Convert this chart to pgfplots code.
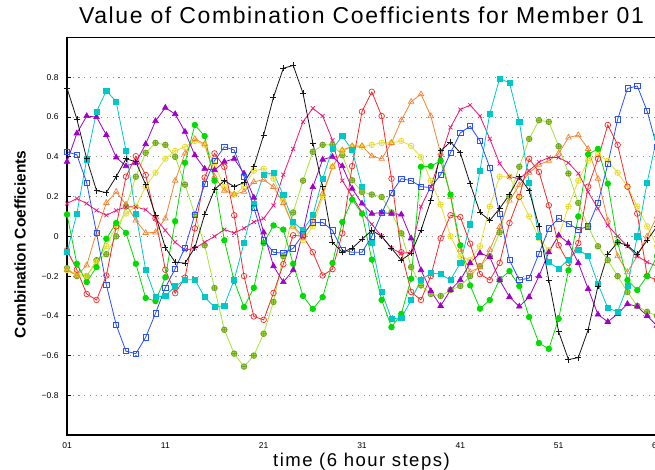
\documentclass[border=0pt]{standalone}
\usepackage{pgfplots}
\pgfplotsset{compat=1.18}
\usepackage{pgfplotstable}
\usepackage{fontspec}
\setmainfont{Liberation Sans}
\definecolor{cBk}{RGB}{20,20,20}
\definecolor{cBl}{RGB}{40,80,255}
\definecolor{cCy}{RGB}{0,200,200}
\definecolor{cPu}{RGB}{160,0,200}
\definecolor{cGr}{RGB}{0,220,0}
\definecolor{cRd}{RGB}{250,40,40}
\definecolor{cOr}{RGB}{245,130,50}
\definecolor{cYe}{RGB}{230,220,50}
\definecolor{cLi}{RGB}{160,230,50}
\definecolor{cPk}{RGB}{240,20,120}
\pgfplotstableread{
t bk bl cy pu gr rd or ye li pk
1 0.745 0.425 -0.08 0.375 0.11 -0.07 -0.17 -0.17 -0.16 0.165
2 0.59 0.41 0.114 0.518 -0.138 -0.168 -0.197 -0.19 -0.2 0.19
3 0.39 0.27 0.387 0.605 -0.23 -0.29 -0.146 -0.2 -0.2 0.165
4 0.23 0.017 0.627 0.60 -0.155 -0.32 0.02 -0.13 -0.12 0.13
5 0.22 -0.244 0.733 0.51 -0.012 -0.197 0.168 -0.05 -0.09 0.106
6 0.30 -0.445 0.677 0.397 0.067 0.05 0.224 0.05 0.0 0.13
7 0.39 -0.578 0.43 0.353 0.017 0.30 0.16 0.115 0.15 0.148
8 0.375 -0.59 0.114 0.37 -0.138 0.403 0.08 0.15 0.3 0.148
9 0.26 -0.508 -0.168 0.464 -0.31 0.308 0.017 0.25 0.42 0.134
10 0.105 -0.387 -0.306 0.58 -0.326 0.09 0.02 0.32 0.47 0.09
11 -0.057 -0.258 -0.30 0.647 -0.206 -0.168 0.09 0.39 0.46 0.03
12 -0.13 -0.163 -0.252 0.615 0.076 -0.286 0.28 0.43 0.40 -0.03
13 -0.135 -0.057 -0.218 0.526 0.37 -0.208 0.417 0.45 0.26 -0.07
14 -0.057 0.11 -0.218 0.408 0.56 0.04 0.49 0.48 0.11 -0.06
15 0.11 0.262 -0.306 0.34 0.504 0.296 0.464 0.46 -0.045 -0.03
16 0.235 0.38 -0.356 0.333 0.28 0.417 0.3 0.36 -0.26 0.0
17 0.28 0.45 -0.348 0.375 -0.02 0.35 0.23 0.25 -0.47 0.034
18 0.25 0.434 -0.218 0.39 -0.225 0.106 0.212 0.21 -0.59 0.017
19 0.27 0.30 -0.034 0.316 -0.356 -0.20 0.224 0.25 -0.655 0.04
20 0.35 0.145 0.165 0.195 -0.259 -0.403 0.274 0.33 -0.6 0.072
21 0.51 -0.02 0.31 0.02 -0.034 -0.42 0.285 0.34 -0.49 0.09
22 0.70 -0.08 0.32 -0.15 0.055 -0.285 0.249 0.29 -0.33 0.156
23 0.845 -0.085 0.207 -0.23 0.034 -0.14 0.168 0.18 -0.1 0.31
24 0.86 -0.06 0.072 -0.17 -0.138 0.005 0.05 0.05 0.12 0.44
25 0.72 0.01 0.03 0.022 -0.3 0.0 0.0 -0.02 0.28 0.576
26 0.47 0.07 0.106 0.248 -0.365 -0.08 0.08 0.05 0.425 0.644
27 0.25 0.07 0.29 0.386 -0.306 -0.197 0.215 0.2 0.46 0.605
28 -0.03 0.03 0.44 0.40 -0.134 -0.165 0.35 0.35 0.46 0.484
29 -0.08 -0.07 0.504 0.353 0.072 0.015 0.433 0.43 0.408 0.28
30 -0.06 -0.08 0.434 0.24 0.185 0.353 0.454 0.45 0.282 0.2
31 -0.015 -0.08 0.25 0.165 0.114 0.627 0.455 0.45 0.223 0.12
32 0.03 0.0 -0.034 0.114 -0.117 0.727 0.403 0.46 0.21 0.06
33 0.0 0.117 -0.28 0.12 -0.32 0.605 0.39 0.47 0.198 0.0
34 -0.06 0.22 -0.415 0.114 -0.457 0.29 0.47 0.47 0.12 -0.06
35 -0.12 0.29 -0.41 0.11 -0.39 -0.08 0.584 0.48 0.015 -0.086
36 -0.085 0.28 -0.32 -0.01 -0.213 -0.28 0.677 0.455 -0.155 -0.08
37 0.03 0.25 -0.22 -0.17 0.35 -0.32 0.715 0.398 -0.247 0.15
38 0.18 0.245 -0.185 -0.275 0.353 -0.2 0.605 0.28 -0.29 0.25
39 0.43 0.31 -0.19 -0.35 0.38 -0.01 0.417 0.16 -0.3 0.4
40 0.475 0.42 -0.22 -0.27 0.21 0.106 0.2 0.0 -0.27 0.548
41 0.42 0.52 -0.134 -0.22 -0.045 0.097 -0.067 -0.1 -0.25 0.638
42 0.265 0.554 0.06 -0.134 -0.247 -0.037 -0.18 -0.12 -0.2 0.66
43 0.12 0.48 0.33 -0.084 -0.364 -0.19 -0.155 -0.05 -0.15 0.605
44 0.08 0.346 0.618 -0.104 -0.32 -0.22 -0.067 0.15 -0.1 0.49
45 0.14 0.114 0.794 -0.22 -0.218 -0.134 0.047 0.3 0.02 0.366
46 0.21 -0.12 0.772 -0.305 -0.175 0.067 0.18 0.3 0.2 0.3
47 0.30 -0.22 0.576 -0.353 -0.25 0.198 0.257 0.2 0.35 0.29
48 0.23 -0.21 0.27 -0.305 -0.406 0.39 0.32 0.1 0.49 0.33
49 0.05 -0.087 0.0 -0.2 -0.537 0.324 0.36 -0.01 0.584 0.374
50 -0.22 0.04 -0.13 -0.08 -0.566 0.156 0.38 -0.07 0.576 0.396
51 -0.48 0.09 -0.163 0.005 -0.415 -0.045 0.417 0.0 0.453 0.396
52 -0.62 0.064 -0.117 -0.034 -0.171 -0.134 0.497 0.15 0.316 0.37
53 -0.61 0.034 -0.067 -0.134 0.1 -0.034 0.509 0.28 0.168 0.316
54 -0.47 0.05 -0.1 -0.264 0.413 0.25 0.44 0.38 0.05 0.223
55 -0.25 0.168 -0.24 -0.393 0.44 0.39 0.29 0.41 -0.05 0.14
56 -0.09 0.363 -0.36 -0.43 0.265 0.56 0.08 0.38 -0.12 0.055
57 -0.03 0.588 -0.38 -0.39 -0.03 0.46 -0.1 0.32 -0.2 0.0
58 -0.045 0.744 -0.25 -0.34 -0.22 0.25 -0.18 0.25 -0.28 -0.05
59 -0.09 0.756 0.0 -0.353 -0.27 0.114 -0.1 0.15 -0.35 -0.1
60 -0.02 0.63 0.27 -0.4 -0.2 -0.2 0.0 0.05 -0.38 -0.13
61 0.05 0.45 0.5 -0.45 -0.1 -0.22 0.1 -0.05 -0.4 -0.15
}\data
\begin{document}
\begin{tikzpicture}
\begin{axis}[
  scale only axis, width=592.7pt, height=397.5pt,
  xmin=1, xmax=61.3, ymin=-1, ymax=1,
  xtick={1,11,21,31,41,51,61}, xticklabels={01,11,21,31,41,51,61},
  ytick={-0.8,-0.6,-0.4,-0.2,0,0.2,0.4,0.6,0.8},
  yticklabels={−0.8,−0.6,−0.4,−0.2,0,0.2,0.4,0.6,0.8},
  tick label style={font=\fontsize{8.5}{10}\selectfont},
  yticklabel style={xshift=-5pt},
  xticklabel style={yshift=-4pt},
  tick align=inside, major tick length=4pt,
  xtick style={draw=none},
  ytick style={black, line width=0.8pt},
  ymajorgrids, grid style={gray!90, line width=0.7pt, dash pattern=on 1.2pt off 4.5pt},
  axis line style={line width=1.8pt},
  title={Value of Combination Coefficients for Member 01},
  title style={font=\fontsize{23}{27}\selectfont\addfontfeatures{LetterSpace=7}, at={(axis description cs:0.5,1)}, anchor=south, yshift=4pt, xshift=-2pt},
  xlabel={time (6 hour steps)},
  xlabel style={font=\fontsize{18.5}{22}\selectfont\addfontfeatures{LetterSpace=8}, at={(axis description cs:0.5,0)}, anchor=north, yshift=-14pt, xshift=-2pt},
  ylabel={Combination Coefficients},
  ylabel style={font=\fontsize{15.5}{18}\selectfont\bfseries, at={([xshift=-47pt]axis description cs:0,0.48)}, anchor=center, rotate=0},
  every axis plot/.append style={line width=0.8pt, mark size=2.8pt, mark options={solid, line width=0.7pt}},
  clip=true,
]
\addplot[cLi, mark=oplus*, mark options={fill=cLi, draw=cLi!70!black}] table[x=t,y=li]{\data};
\addplot[cYe, mark=oplus] table[x=t,y=ye]{\data};
\addplot[cOr, mark=triangle, mark size=3.2pt] table[x=t,y=or]{\data};
\addplot[cPk, mark=x] table[x=t,y=pk]{\data};
\addplot[cRd, mark=o] table[x=t,y=rd]{\data};
\addplot[cGr, mark=*] table[x=t,y=gr]{\data};
\addplot[cPu, mark=triangle*, mark size=3.2pt] table[x=t,y=pu]{\data};
\addplot[cCy, mark=square*, mark size=2.6pt] table[x=t,y=cy]{\data};
\addplot[cBl, mark=square, mark size=2.6pt] table[x=t,y=bl]{\data};
\addplot[cBk, mark=+, mark size=3pt] table[x=t,y=bk]{\data};
\end{axis}
\pgfresetboundingbox
\path ([xshift=-67pt,yshift=-34pt]current axis.south west) rectangle ([xshift=-4.9pt,yshift=37.5pt]current axis.north east);
\end{tikzpicture}
\end{document}
